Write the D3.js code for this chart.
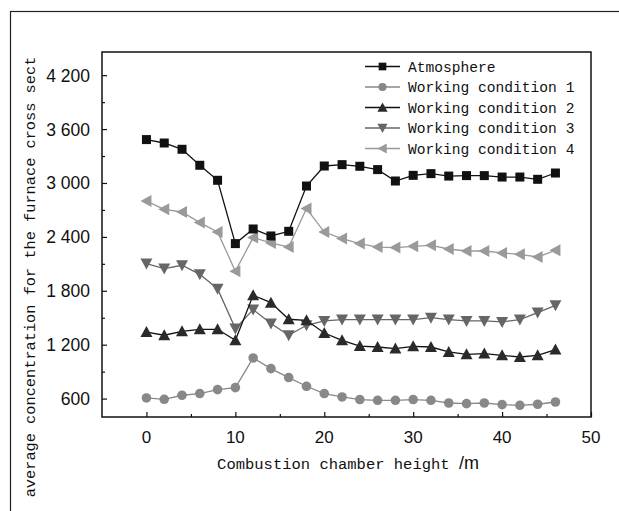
<!DOCTYPE html>
<html>
<head>
<meta charset="utf-8">
<script src="https://cdn.jsdelivr.net/npm/d3@7"></script>
<style>
  body { margin: 0; background: #fff; }
  svg { display: block; }
</style>
</head>
<body>
<div id="vis"></div>
<script>
(function () {

  'use strict';

  // Data
  var heights = [0, 2, 4, 6, 8, 10, 12, 14, 16, 18, 20, 22, 24, 26, 28, 30, 32, 34, 36, 38, 40, 42, 44, 46];

  var atmosphere = [3483, 3445, 3375, 3197, 3030, 2325, 2488, 2410, 2462, 2966, 3189, 3204,
    3186, 3149, 3022, 3085, 3104, 3077, 3082, 3082, 3066, 3066, 3041, 3111];

  var condition1 = [607, 592, 637, 656, 700, 722, 1052, 934, 834, 737, 656, 618,
    589, 581, 581, 589, 581, 551, 544, 551, 533, 525, 537, 562];

  var condition2 = [1341, 1305, 1349, 1371, 1371, 1249, 1750, 1668, 1483, 1471, 1330, 1249,
    1185, 1174, 1157, 1182, 1174, 1119, 1093, 1101, 1082, 1063, 1082, 1145];

  var condition3 = [2103, 2047, 2084, 1983, 1824, 1379, 1591, 1435, 1305, 1416, 1464, 1479,
    1479, 1479, 1479, 1479, 1501, 1479, 1464, 1464, 1453, 1479, 1557, 1638];

  var condition4 = [2799, 2707, 2677, 2559, 2454, 2017, 2392, 2332, 2287, 2715, 2454, 2381,
    2325, 2287, 2281, 2295, 2306, 2265, 2243, 2243, 2221, 2206, 2176, 2250];

  var seriesNames = ['Atmosphere', 'Working condition 1', 'Working condition 2',
    'Working condition 3', 'Working condition 4'];

  var yTicks = [600, 1200, 1800, 2400, 3000, 3600, 4200];
  var yTickLabels = ['600', '1 200', '1 800', '2 400', '3 000', '3 600', '4 200'];
  var xTicks = [0, 10, 20, 30, 40, 50];

  // Settings
  var width = 619;
  var height = 511;

  var plot = { left: 102, right: 591, top: 52, bottom: 417 };

  var styles = [
    { line: '#111', fill: '#111', symbol: 'square' },
    { line: '#888', fill: '#888', symbol: 'circle' },
    { line: '#111', fill: '#2a2a2a', symbol: 'up' },
    { line: '#666', fill: '#666', symbol: 'down' },
    { line: '#999', fill: '#9a9a9a', symbol: 'left' }
  ];

  var series = [atmosphere, condition1, condition2, condition3, condition4].map(function (values, i) {
    return {
      name: seriesNames[i],
      style: styles[i],
      values: values.map(function (v, j) { return { x: heights[j], y: v }; })
    };
  });

  var svg = d3.select('#vis').append('svg')
      .attr('width', width)
      .attr('height', height);

  // Outer frame (clipped by the picture at right and bottom)
  svg.append('rect')
      .attr('x', 10.5)
      .attr('y', 11.5)
      .attr('width', 640)
      .attr('height', 540)
      .attr('fill', 'none')
      .attr('stroke', '#222')
      .attr('stroke-width', 1.2);

  var x = d3.scaleLinear()
    .domain([-5, 50])
    .range([plot.left, plot.right]);

  var y = d3.scaleLinear()
    .domain([395, 4458])
    .range([plot.bottom, plot.top]);

  // Inward ticks, major and minor
  var xAxis = d3.axisTop(x)
      .tickValues(xTicks)
      .tickSize(5)
      .tickFormat('');

  var xMinor = d3.axisTop(x)
      .tickValues([5, 15, 25, 35, 45])
      .tickSize(3)
      .tickFormat('');

  var yAxis = d3.axisRight(y)
      .tickValues(yTicks)
      .tickSize(5)
      .tickFormat('');

  var yMinor = d3.axisRight(y)
      .tickValues([900, 1500, 2100, 2700, 3300, 3900])
      .tickSize(3)
      .tickFormat('');

  [xAxis, xMinor].forEach(function (ax) {
    svg.append('g')
        .attr('transform', 'translate(0,' + plot.bottom + ')')
        .call(ax)
        .call(function (g) { g.select('.domain').remove(); })
        .selectAll('line').attr('stroke', '#111').attr('stroke-width', 1.2);
  });

  [yAxis, yMinor].forEach(function (ax) {
    svg.append('g')
        .attr('transform', 'translate(' + plot.left + ',0)')
        .call(ax)
        .call(function (g) { g.select('.domain').remove(); })
        .selectAll('line').attr('stroke', '#111').attr('stroke-width', 1.2);
  });

  // Plot box
  svg.append('rect')
      .attr('x', plot.left)
      .attr('y', plot.top)
      .attr('width', plot.right - plot.left)
      .attr('height', plot.bottom - plot.top)
      .attr('fill', 'none')
      .attr('stroke', '#111')
      .attr('stroke-width', 1.5);

  // Tick labels
  svg.append('g')
    .selectAll('text')
      .data(xTicks)
      .enter()
    .append('text')
      .attr('x', function (d) { return x(d); })
      .attr('y', 443)
      .attr('text-anchor', 'middle')
      .attr('font-family', '"Liberation Sans", Arial, sans-serif')
      .attr('font-size', 17)
      .attr('fill', '#111')
      .text(function (d) { return d; });

  svg.append('g')
    .selectAll('text')
      .data(yTicks)
      .enter()
    .append('text')
      .attr('x', 90)
      .attr('y', function (d) { return y(d) + 6.5; })
      .attr('text-anchor', 'end')
      .attr('font-family', '"Liberation Sans", Arial, sans-serif')
      .attr('font-size', 17.5)
      .attr('fill', '#111')
      .text(function (d, i) { return yTickLabels[i]; });

  // Axis titles
  var xTitle = svg.append('text')
      .attr('x', 348)
      .attr('y', 469)
      .attr('text-anchor', 'middle')
      .attr('fill', '#111');

  xTitle.append('tspan')
      .attr('font-family', '"Liberation Mono", "DejaVu Sans Mono", monospace')
      .attr('font-size', 15.5)
      .text('Combustion chamber height ');

  xTitle.append('tspan')
      .attr('font-family', '"Liberation Sans", Arial, sans-serif')
      .attr('font-size', 18)
      .text('/m');

  svg.append('text')
      .attr('transform', 'translate(35,277) rotate(-90)')
      .attr('text-anchor', 'middle')
      .attr('font-family', '"Liberation Mono", "DejaVu Sans Mono", monospace')
      .attr('font-size', 15.3)
      .attr('fill', '#111')
      .text('average concentration for the furnace cross sect');

  // Symbols
  function drawSymbol(sel, symbol, fill) {
    if (symbol === 'square') {
      sel.append('rect')
          .attr('x', -4.5).attr('y', -4.5)
          .attr('width', 9).attr('height', 9)
          .attr('fill', fill);
    } else if (symbol === 'circle') {
      sel.append('circle')
          .attr('r', 4.8)
          .attr('fill', fill);
    } else {
      var pts = {
        up: '0,-6 6,5 -6,5',
        down: '0,6 6,-5 -6,-5',
        left: '-6,0 5,-6 5,6'
      };
      sel.append('polygon')
          .attr('points', pts[symbol])
          .attr('fill', fill);
    }
  }

  var line = d3.line()
      .x(function (d) { return x(d.x); })
      .y(function (d) { return y(d.y); });

  // Draw back to front so Atmosphere sits on top
  series.slice().reverse().forEach(function (s) {

    var g = svg.append('g');

    g.append('path')
        .datum(s.values)
        .attr('d', line)
        .attr('fill', 'none')
        .attr('stroke', s.style.line)
        .attr('stroke-width', 1.3);

    g.selectAll('g.pt')
        .data(s.values)
        .enter()
      .append('g')
        .attr('class', 'pt')
        .attr('transform', function (d) { return 'translate(' + x(d.x) + ',' + y(d.y) + ')'; })
        .each(function () { drawSymbol(d3.select(this), s.style.symbol, s.style.fill); });
  });

  // Legend
  var legend = svg.append('g');

  series.forEach(function (s, i) {

    var ly = 66.5 + i * 20.5;

    legend.append('line')
        .attr('x1', 365).attr('x2', 400)
        .attr('y1', ly).attr('y2', ly)
        .attr('stroke', s.style.line)
        .attr('stroke-width', 1.3);

    var m = legend.append('g')
        .attr('transform', 'translate(382.5,' + ly + ') scale(0.85)');
    drawSymbol(m, s.style.symbol, s.style.fill);

    legend.append('text')
        .attr('x', 408)
        .attr('y', ly + 5)
        .attr('font-family', '"Liberation Mono", "DejaVu Sans Mono", monospace')
        .attr('font-size', 14.6)
        .attr('fill', '#111')
        .text(s.name);
  });
})();
</script>
</body>
</html>
